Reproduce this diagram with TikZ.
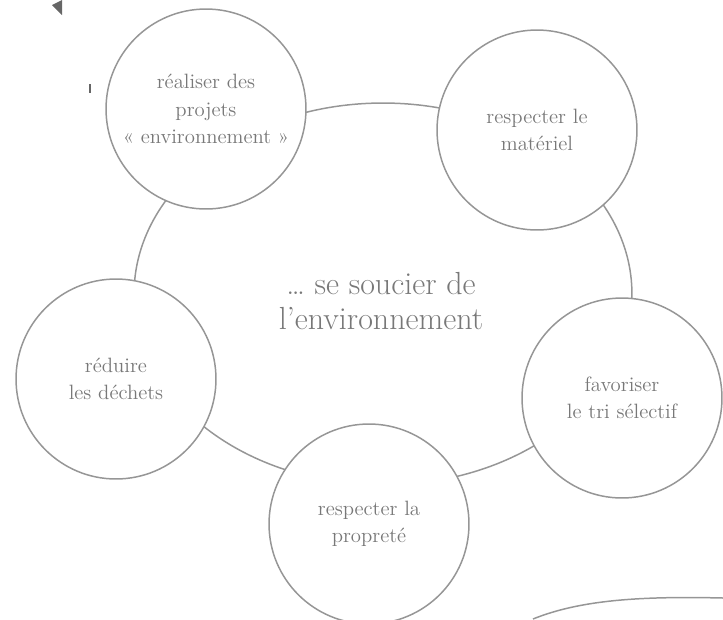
\documentclass[tikz,border=0pt]{standalone}
\usepackage{fontspec}
\usepackage{tikz}
\usetikzlibrary{positioning, shapes.geometric}
\definecolor{mygray}{RGB}{150,150,150}
\definecolor{mytext}{RGB}{120,120,120}
\tikzset{
  topic/.style={draw=mygray, ellipse, line width=0.85pt, minimum width=9.96cm,
    minimum height=7.64cm, inner sep=0},
  topictext/.style={text=mytext, font=\fontsize{18.2}{20}\selectfont, align=center},
  bubble/.style={circle, draw=mygray, fill=white, line width=0.85pt,
    minimum size=4cm, inner sep=0, text=mytext,
    font=\fontsize{11.8}{15.5}\selectfont, align=center},
  speck/.style={fill=black!60, draw=none}
}

\begin{document}
\begin{tikzpicture}[x=0.02cm, y=-0.02cm]
\useasboundingbox (0,0) rectangle (723,619);

\node [topic] (env) at (383,294) {};
\node [topictext] (envtext) at (381,301) {… se soucier de\\l’environnement};

\node [bubble] (proj) at (206,109) {réaliser des\\projets\\« environnement »};
\node [bubble] (mat) at (537,130) {respecter le\\matériel};
\node [bubble] (dech) at (116,379) {réduire\\les déchets};
\node [bubble] (tri) at (622,398) {favoriser\\le tri sélectif};
\node [bubble] (prop) at (369,524) {respecter la\\propreté};

% marks of the scan
\fill [speck] (52,5) -- (62,0) -- (62,15) -- cycle;
\fill [speck] (89,84) rectangle (91,93);
\draw [mygray, line width=0.85pt] (533,619) .. controls (580,600) and (640,596) .. (723,598);

\end{tikzpicture}
\end{document}
